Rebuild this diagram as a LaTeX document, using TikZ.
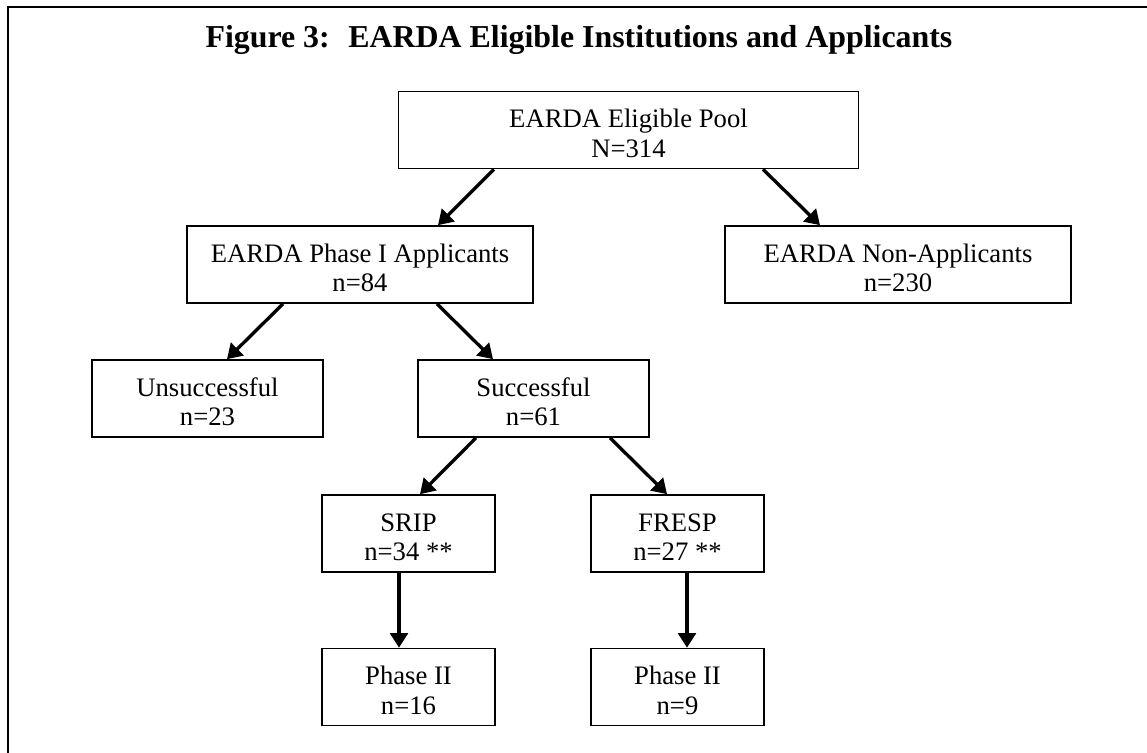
\documentclass[tikz,border=0pt]{standalone}
\usepackage{fontspec}
\setmainfont{Liberation Serif}
\usetikzlibrary{arrows.meta,calc}
\tikzset{
  box/.style={draw, line width=0.75pt, align=center, inner sep=0pt, minimum height=37pt, text height=26pt, text depth=0pt},
  link/.style={line width=1.6pt, -{Triangle[length=7pt,width=8.5pt]}}
}
\begin{document}
\begin{tikzpicture}[x=0.48pt,y=-0.48pt, font=\fontsize{12.8}{14.2}\selectfont, line join=miter]
		\def\wdA{221pt} \def\wdB{166pt}
		\def\wdC{111pt} \def\wdD{83pt}
		\useasboundingbox (0,0) rectangle (1147,752);
		% frame and title
		\draw[line width=1pt] (8,760)--(8,7)--(1160,7);
		\node (title) at (579,47) [anchor=base]{\fontsize{15.3}{18}\selectfont\bfseries Figure 3:~ EARDA Eligible Institutions and Applicants};
		% boxes
		\node[box, minimum width=\wdA] (pool) at (628.5,130) {EARDA Eligible Pool\\N=314};
		\node[box, minimum width=\wdB] (phase1) at (360,264.5) {EARDA Phase I Applicants\\n=84};
		\node[box, minimum width=\wdB] (nonapp) at (898,264.5) {EARDA Non-Applicants\\n=230};
		\node[box, minimum width=\wdC] (unsucc) at (207.5,398.5) {Unsuccessful\\n=23};
		\node[box, minimum width=\wdC] (succ) at (533.5,398.5) {Successful\\n=61};
		\node[box, minimum width=\wdD] (srip) at (408.5,533.5) {SRIP\\n=34 **};
		\node[box, minimum width=\wdD] (fresp) at (677.5,533.5) {FRESP\\n=27 **};
		\node[box, minimum width=\wdD] (sripII) at (408.5,687) {Phase II\\n=16};
		\node[box, minimum width=\wdD] (frespII) at (677.5,687) {Phase II\\n=9};
		% arrows
		\draw[link] ($(pool.south)+(-134.5,0)$)--($(phase1.north)+(78,0)$);
		\draw[link] ($(pool.south)+(134.5,0)$)--($(nonapp.north)+(-78,0)$);
		\draw[link] ($(phase1.south)+(-77,0)$)--($(unsucc.north)+(19.5,0)$);
		\draw[link] ($(phase1.south)+(77,0)$)--($(succ.north)+(-40.5,0)$);
		\draw[link] ($(succ.south)+(-57.5,0)$)--($(srip.north)+(11.5,0)$);
		\draw[link] ($(succ.south)+(76.5,0)$)--($(fresp.north)+(-10.5,0)$);
		\draw[link] ($(srip.south)+(-9.5,0)$)--($(sripII.north)+(-9.5,0)$);
		\draw[link] ($(fresp.south)+(9.5,0)$)--($(frespII.north)+(9.5,0)$);
\end{tikzpicture}
\end{document}
